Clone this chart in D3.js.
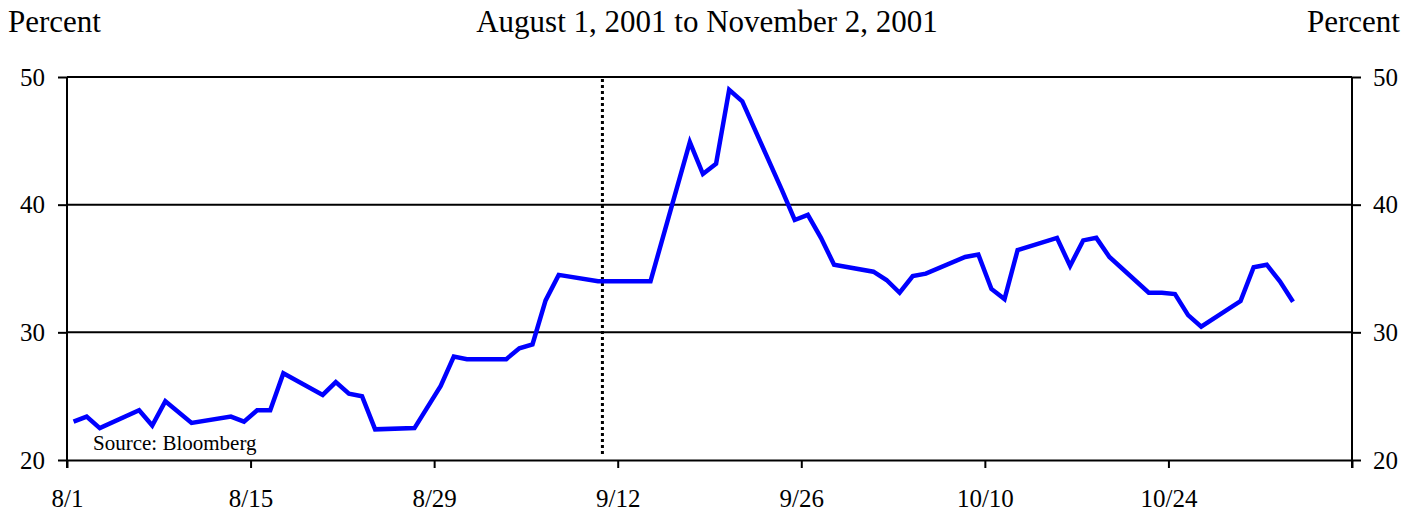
<!DOCTYPE html>
<html>
<head>
<meta charset="utf-8">
<script src="https://cdn.jsdelivr.net/npm/d3@7"></script>
<style>
  body { margin: 0; background: #fff; }
  svg { display: block; font-family: "Liberation Serif", "Times New Roman", serif; }
</style>
</head>
<body>
<svg width="1412" height="511"></svg>
<script>
// daily values (trading days only)
const dates = ["8/1","8/2","8/3","8/6","8/7","8/8","8/10","8/13","8/14","8/15","8/16","8/17",
  "8/20","8/21","8/22","8/23","8/24","8/27","8/29","8/30","8/31","9/3","9/4","9/5","9/6","9/7",
  "9/10","9/14","9/17","9/18","9/19","9/20","9/21","9/24","9/25","9/26","9/27","9/28",
  "10/1","10/2","10/3","10/4","10/5","10/8","10/9","10/10","10/11","10/12",
  "10/15","10/16","10/17","10/18","10/19","10/22","10/23","10/24","10/25","10/26",
  "10/29","10/30","10/31","11/1","11/2"];
const values = [23.0,23.4,22.5,23.9,22.7,24.6,22.9,23.4,23.0,23.9,23.9,26.8,
  25.1,26.1,25.2,25.0,22.4,22.5,25.8,28.1,27.9,27.9,28.75,29.05,32.5,34.5,
  34.0,34.0,44.9,42.4,43.2,49.0,48.1,41.2,38.8,39.2,37.4,35.3,
  34.75,34.1,33.1,34.4,34.6,35.9,36.1,33.4,32.6,36.45,
  37.4,35.2,37.2,37.4,35.9,33.1,33.1,33.0,31.35,30.45,
  32.45,35.1,35.3,34.0,32.4];
const xTicks = ["8/1","8/15","8/29","9/12","9/26","10/10","10/24","11/7"];
const yTicks = [20, 30, 40, 50];
const title = "August 1, 2001 to November 2, 2001";
const sourceNote = "Source: Bloomberg";

const parse = s => d3.timeParse("%m/%d/%Y")(s + "/2001");
const data = dates.map((d, i) => ({ date: d3.timeHour.offset(parse(d), 12), value: values[i] }));

const svg = d3.select("svg"),
  margin = { top: 77, right: 60, bottom: 51, left: 67 },
  width = 1412 - margin.left - margin.right,
  height = 511 - margin.top - margin.bottom;

const x = d3.scaleTime()
  .domain([parse("8/1"), parse("11/7")])
  .range([0, width]);
const y = d3.scaleLinear()
  .domain([20, 50])
  .range([height, 0]);

const g = svg.append("g")
  .attr("transform", "translate(" + margin.left + "," + margin.top + ")");

// gridlines
g.selectAll(".grid")
  .data(yTicks.slice(1))
  .enter().append("line")
  .attr("x1", 0).attr("x2", width)
  .attr("y1", d => y(d)).attr("y2", d => y(d))
  .attr("stroke", "#000").attr("stroke-width", 2);

const fontSize = "25px";

const xAxis = g.append("g")
  .attr("transform", "translate(0," + height + ")")
  .call(d3.axisBottom(x)
    .tickValues(xTicks.map(parse))
    .tickFormat((d, i) => i === xTicks.length - 1 ? "" : xTicks[i])
    .tickSize(8).tickSizeOuter(0).tickPadding(21));

const yLeft = g.append("g")
  .call(d3.axisLeft(y).tickValues(yTicks).tickSize(9).tickSizeOuter(0).tickPadding(13));
const yRight = g.append("g")
  .attr("transform", "translate(" + width + ",0)")
  .call(d3.axisRight(y).tickValues(yTicks).tickSize(9).tickSizeOuter(0).tickPadding(12));

[xAxis, yLeft, yRight].forEach(a => {
  a.select(".domain").attr("stroke-width", 2);
  a.selectAll(".tick line").attr("stroke-width", 2);
  a.selectAll("text").attr("font-family", "Liberation Serif").attr("font-size", fontSize).attr("fill", "#000");
});
// axis lines reach down to the x tick length
yLeft.select(".domain").attr("d", "M0,0V" + (height + 8));
yRight.select(".domain").attr("d", "M0,0V" + (height + 8));

// 9/11 marker
const eventDate = d3.timeHour.offset(parse("9/10"), 20);
g.append("line")
  .attr("x1", x(eventDate)).attr("x2", x(eventDate))
  .attr("y1", y(50) + 2).attr("y2", height - 5)
  .attr("stroke", "#000").attr("stroke-width", 3)
  .attr("stroke-dasharray", "3,3");

const line = d3.line()
  .x(d => x(d.date))
  .y(d => y(d.value));

g.append("path")
  .datum(data)
  .attr("fill", "none")
  .attr("stroke", "#0000ff")
  .attr("stroke-width", 4.5)
  .attr("stroke-linejoin", "miter")
  .attr("d", line);

g.append("text")
  .attr("x", 26).attr("y", height - 10)
  .attr("font-size", "21px")
  .text(sourceNote);

svg.append("text").attr("x", 8).attr("y", 32).attr("font-size", "31px").text("Percent");
svg.append("text").attr("x", 1400).attr("y", 32).attr("font-size", "31px")
  .attr("text-anchor", "end").text("Percent");
svg.append("text").attr("x", 707).attr("y", 32).attr("font-size", "31px")
  .attr("text-anchor", "middle").text(title);
</script>
</body>
</html>
